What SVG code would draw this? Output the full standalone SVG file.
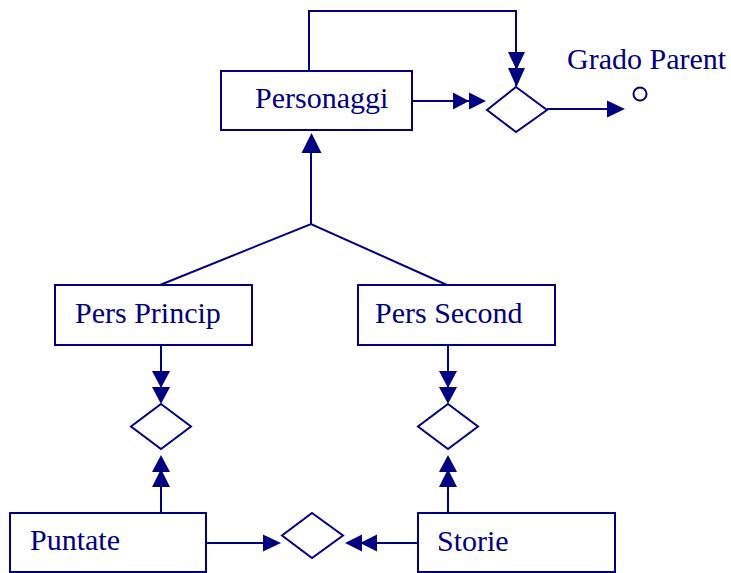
<svg xmlns="http://www.w3.org/2000/svg" width="731" height="573" viewBox="0 0 731 573">
  <style>
    .box { fill: #ffffff; stroke: #000080; stroke-width: 2; }
    .rel { fill: #ffffff; stroke: #000080; stroke-width: 2; }
    .line { fill: none; stroke: #000080; stroke-width: 2; }
    .head { fill: #000080; stroke: none; }
    .label { font-family: "Liberation Serif", "Times New Roman", serif; font-size: 30px; fill: #000080; }
  </style>
  <rect width="731" height="573" fill="#ffffff"/>

  <!-- connectors -->
  <g id="connectors">
    <!-- self loop on Personaggi into Grado Parent relation -->
    <polyline class="line" points="309,71 309,11 516,11 516,86"/>
    <polygon class="head" points="508,52 525,52 516.5,70"/>
    <polygon class="head" points="508,68 525,68 516.5,87"/>

    <!-- Personaggi to Grado Parent relation -->
    <line class="line" x1="412" y1="101" x2="480" y2="101"/>
    <polygon class="head" points="453,92.5 453,109.5 469,101"/>
    <polygon class="head" points="469,92.5 469,109.5 486,101"/>

    <!-- Grado Parent attribute -->
    <line class="line" x1="538" y1="108" x2="544" y2="108"/>
    <line class="line" x1="547" y1="109" x2="612" y2="109"/>
    <polygon class="head" points="607,100.5 607,117.5 625,109"/>
    <circle class="line" cx="640" cy="94" r="6.5"/>

    <!-- generalisation -->
    <line class="line" x1="311" y1="150" x2="311" y2="224"/>
    <polygon class="head" points="301.5,153 321.5,153 311.5,133"/>
    <polyline class="line" points="160,285 311,224 447,285"/>

    <!-- Pers Princip relation -->
    <line class="line" x1="161" y1="345" x2="161" y2="398"/>
    <polygon class="head" points="152,371 170,371 161,388"/>
    <polygon class="head" points="152,387 170,387 161,404"/>
    <line class="line" x1="161" y1="460" x2="161" y2="513"/>
    <polygon class="head" points="152,472 170,472 161,455"/>
    <polygon class="head" points="152,487 170,487 161,469"/>

    <!-- Pers Second relation -->
    <line class="line" x1="448" y1="345" x2="448" y2="398"/>
    <polygon class="head" points="439,371 457,371 448,388"/>
    <polygon class="head" points="439,387 457,387 448,404"/>
    <line class="line" x1="448" y1="460" x2="448" y2="513"/>
    <polygon class="head" points="439,472 457,472 448,455"/>
    <polygon class="head" points="439,487 457,487 448,469"/>

    <!-- Puntate / Storie relation -->
    <line class="line" x1="206" y1="543" x2="268" y2="543"/>
    <polygon class="head" points="263,534.5 263,551.5 281,543"/>
    <line class="line" x1="372" y1="543" x2="418" y2="543"/>
    <polygon class="head" points="362,534.5 362,551.5 345,543"/>
    <polygon class="head" points="377,534.5 377,551.5 360,543"/>
  </g>

  <!-- entities -->
  <g id="personaggi">
    <rect class="box" x="221" y="71" width="191" height="59"/>
    <text class="label" x="255" y="108">Personaggi</text>
  </g>
  <g id="pers-princip">
    <rect class="box" x="55" y="285" width="197" height="60"/>
    <text class="label" x="75" y="323">Pers Princip</text>
  </g>
  <g id="pers-second">
    <rect class="box" x="358" y="285" width="197" height="60"/>
    <text class="label" x="375" y="323">Pers Second</text>
  </g>
  <g id="puntate">
    <rect class="box" x="10" y="513" width="196" height="59"/>
    <text class="label" x="30" y="550">Puntate</text>
  </g>
  <g id="storie">
    <rect class="box" x="418" y="513" width="197" height="59"/>
    <text class="label" x="437" y="551">Storie</text>
  </g>

  <!-- relationships -->
  <g id="grado-parent">
    <polygon class="rel" points="516,87 547,110 516,132 487,110"/>
    <text class="label" x="567" y="69">Grado Parent</text>
  </g>
  <g id="rel-princip">
    <polygon class="rel" points="161,404 191,426.5 161,449 131,426.5"/>
  </g>
  <g id="rel-second">
    <polygon class="rel" points="448,404 478,426.5 448,449 418,426.5"/>
  </g>
  <g id="rel-puntate-storie">
    <polygon class="rel" points="312,513 343,535.5 312,558 282,535.5"/>
  </g>
</svg>
